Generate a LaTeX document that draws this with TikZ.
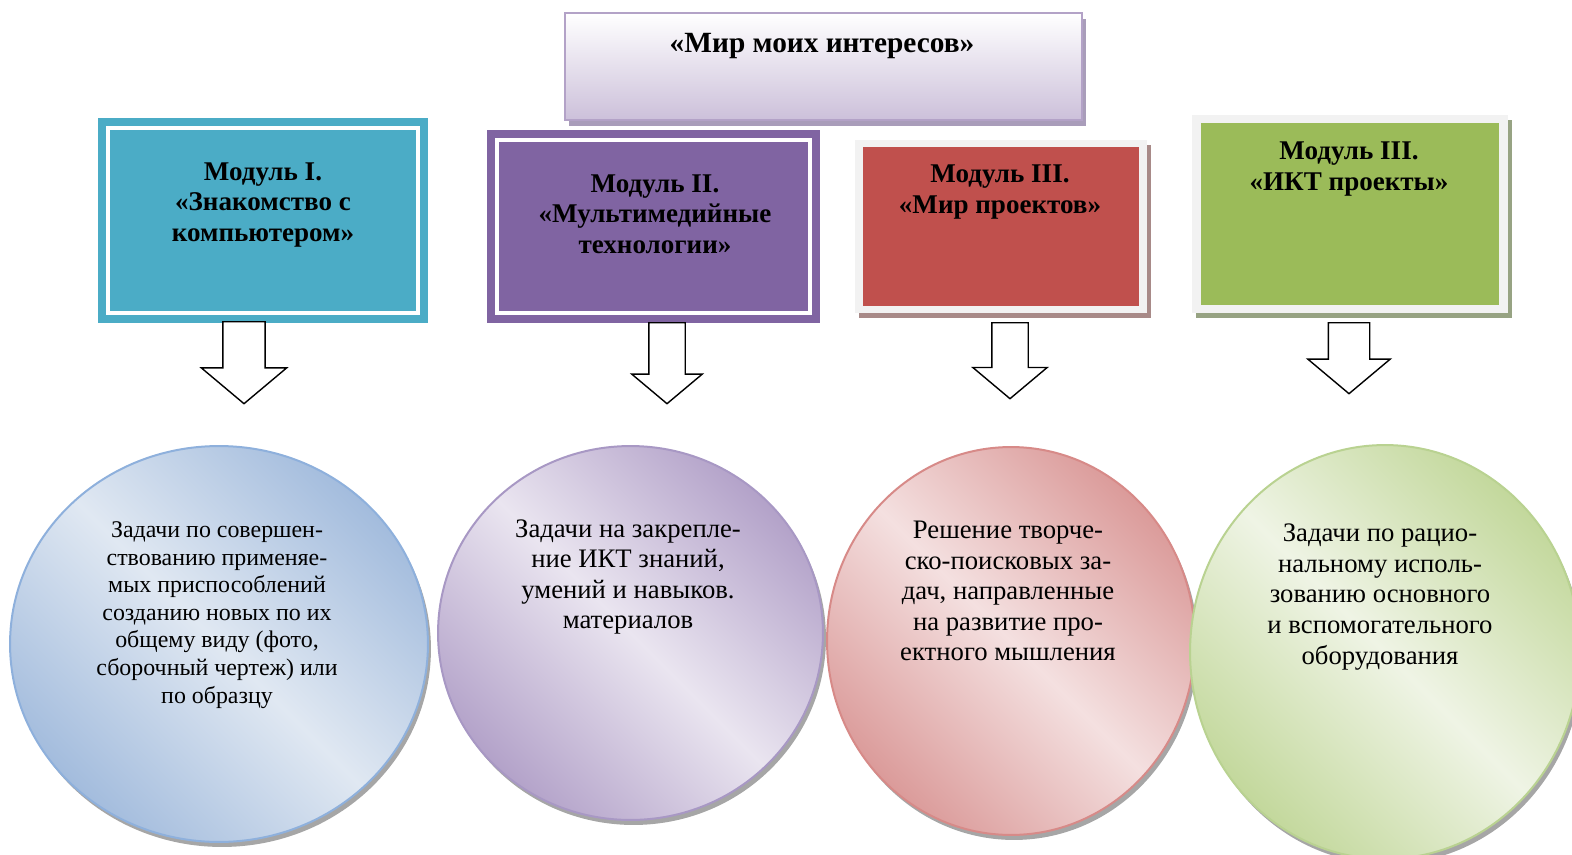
\documentclass[tikz,border=0pt]{standalone}
\usepackage{fontspec}
\setmainfont{Liberation Serif}
\usetikzlibrary{shapes.geometric}
\usetikzlibrary{shapes.arrows}
\usetikzlibrary{shadows}
\definecolor{titleline}{HTML}{B3A2C7}
\definecolor{titlebot}{HTML}{CCC0DA}
\definecolor{titleshadow}{HTML}{A99DBA}
\definecolor{modI}{HTML}{4BACC6}
\definecolor{modII}{HTML}{8064A2}
\definecolor{modIII}{HTML}{C0504D}
\definecolor{modIV}{HTML}{9BBB59}
\definecolor{framegray}{HTML}{F2F2F2}
\definecolor{shIII}{HTML}{A88A88}
\definecolor{shIV}{HTML}{97A383}
\definecolor{blueD}{HTML}{A3BCDD}
\definecolor{blueL}{HTML}{E0E8F2}
\definecolor{blueB}{HTML}{8EB0DC}
\definecolor{violD}{HTML}{B3A2C9}
\definecolor{violL}{HTML}{EAE5F0}
\definecolor{violB}{HTML}{A898C4}
\definecolor{redD}{HTML}{DB9B9A}
\definecolor{redL}{HTML}{F4E0E0}
\definecolor{redB}{HTML}{D78A88}
\definecolor{grnD}{HTML}{C3D89C}
\definecolor{grnL}{HTML}{EFF4E5}
\definecolor{grnB}{HTML}{B9D291}
\tikzset{
  mainbox/.style= {draw=titleline, line width=0.04cm, top color=white, bottom color=titlebot,
    drop shadow={shadow xshift=0.08cm, shadow yshift=-0.12cm, fill=titleshadow, opacity=1}},
  dbox/.style= {draw=#1, fill=#1, double=white, double distance=0.08cm, line width=0.16cm},
  fbox/.style= {fill=framegray, drop shadow={shadow xshift=0.08cm, shadow yshift=-0.1cm, fill=#1, opacity=1}},
  cbox/.style= {fill=#1},
  modtext/.style= {align=center, font=\bfseries\fontsize{15.4}{17.4}\selectfont},
  arr/.style= {single arrow, draw, fill=white, line width=0.8pt, shape border rotate=270,
    single arrow head indent=0pt, single arrow tip angle=100, anchor=tail},
  task/.style= {ellipse, line width=0.04cm, draw=#1B, top color=#1D, bottom color=#1D, middle color=#1L,
    shading angle=-45,
    drop shadow={shadow xshift=0.06cm, shadow yshift=-0.1cm, fill=black, opacity=0.35}},
  tasktext/.style= {align=center, font=\fontsize{15.2}{17.4}\selectfont},
}
\begin{document}
\begin{tikzpicture}[x=0.02cm, y=-0.02cm]
  \useasboundingbox (0,0) rectangle (1572,855);

  \node [mainbox, minimum width=10.34cm, minimum height=2.14cm] (top) at (823.5,66.5) {};
  \node [font=\bfseries\fontsize{16.7}{19}\selectfont] (toptext) at (822,46) {«Мир моих интересов»};

  \node [dbox=modI, minimum width=6.2cm, minimum height=3.7cm] (m1) at (263,220.5) {};
  \node [modtext] (m1text) at (263,205) {Модуль I.\\«Знакомство с\\компьютером»};

  \node [dbox=modII, minimum width=6.26cm, minimum height=3.46cm] (m2) at (653.5,226.5) {};
  \node [modtext] (m2text) at (655,214) {Модуль II.\\«Мультимедийные\\технологии»};

  \node [fbox=shIII, minimum width=5.84cm, minimum height=3.46cm] (f3) at (1001,226.5) {};
  \node [cbox=modIII, minimum width=5.52cm, minimum height=3.18cm] (m3) at (f3) {};
  \node [modtext] (m3text) at (1000,192) {Модуль III.\\«Мир проектов»};

  \node [fbox=shIV, minimum width=6.32cm, minimum height=3.96cm] (f4) at (1350,214) {};
  \node [cbox=modIV, minimum width=5.98cm, minimum height=3.66cm] (m4) at (f4) {};
  \node [modtext] (m4text) at (1349,169) {Модуль III.\\«ИКТ проекты»};

  \node [arr, inner sep=0.41cm, single arrow head extend=0.43cm, minimum height=1.64cm] (a1) at (244,321) {};
  \node [arr, inner sep=0.35cm, single arrow head extend=0.34cm, minimum height=1.62cm] (a2) at (667,322) {};
  \node [arr, inner sep=0.35cm, single arrow head extend=0.38cm, minimum height=1.52cm] (a3) at (1010,322) {};
  \node [arr, inner sep=0.40cm, single arrow head extend=0.41cm, minimum height=1.42cm] (a4) at (1349,322) {};

  \node [task=blue, minimum width=8.36cm, minimum height=7.92cm] (c1) at (219,644) {};
  \node [tasktext, font=\fontsize{13.6}{15.7}\selectfont] (c1text) at (217,615)
    {Задачи по совершен-\\ствованию применяе-\\мых приспособлений\\созданию новых по их\\общему виду (фото,\\сборочный чертеж) или\\по образцу};

  \node [task=viol, minimum width=7.7cm, minimum height=7.48cm] (c2) at (630.5,633) {};
  \node [tasktext] (c2text) at (628,577)
    {Задачи на закрепле-\\ние ИКТ знаний,\\умений и навыков.\\материалов};

  \node [task=red, minimum width=7.36cm, minimum height=7.76cm] (c3) at (1011,641) {};
  \node [tasktext] (c3text) at (1008,591)
    {Решение творче-\\ско-поисковых за-\\дач, направленные\\на развитие про-\\ектного мышления};

  \node [task=grn, minimum width=7.8cm, minimum height=8.28cm] (c4) at (1385,652) {};
  \node [tasktext] (c4text) at (1380,597)
    {Задачи по рацио-\\нальному исполь-\\зованию основного\\и вспомогательного\\оборудования};
\end{tikzpicture}
\end{document}
